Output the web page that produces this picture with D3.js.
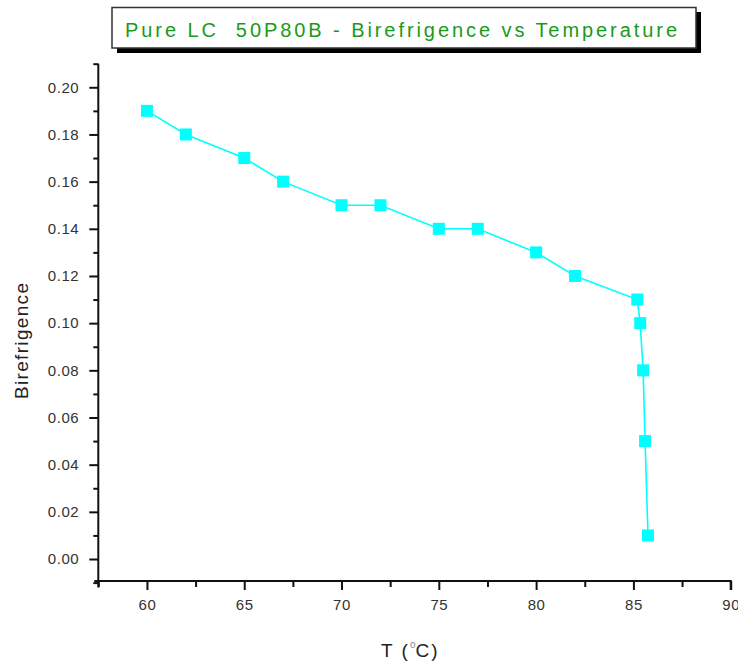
<!DOCTYPE html>
<html>
<head>
<meta charset="utf-8">
<script src="https://cdn.jsdelivr.net/npm/d3@7/dist/d3.min.js"></script>
<style>
  body { margin: 0; background: #fff; }
  text { font-family: "Liberation Sans", Arial, sans-serif; }
</style>
</head>
<body>
<div id="container"></div>
<script>
let w = 738;
let h = 662;

// data
let temps = [60, 62, 65, 67, 70, 72, 75, 77, 80, 82, 85.2, 85.35, 85.5, 85.6, 85.75];
let biref = [0.19, 0.18, 0.17, 0.16, 0.15, 0.15, 0.14, 0.14, 0.13, 0.12, 0.11, 0.10, 0.08, 0.05, 0.01];
let xTicks = [60, 65, 70, 75, 80, 85, 90];
let yTicks = [0.00, 0.02, 0.04, 0.06, 0.08, 0.10, 0.12, 0.14, 0.16, 0.18, 0.20];
let titleText = "Pure LC  50P80B - Birefrigence vs Temperature";

let padL = 98.3, padR = 730.7, padT = 63.7, padB = 582.6;
let axisY = 581;

let svg = d3.select("#container")
  .append("svg")
  .attr("width", w)
  .attr("height", h);

let x = d3.scaleLinear().domain([57.5, 90]).range([padL, padR]);
let y = d3.scaleLinear().domain([-0.01, 0.21]).range([padB, padT]);

// minor ticks
let xMinor = d3.range(57.5, 90.01, 2.5).filter(v => v % 5 != 0);
let yMinor = d3.range(-0.01, 0.2101, 0.02).map(v => +v.toFixed(2));

let xAxis = d3.axisBottom(x).tickValues(xTicks).tickSize(9).tickPadding(9).tickFormat(d3.format("d"));
let yAxis = d3.axisLeft(y).tickValues(yTicks).tickSize(9).tickPadding(10).tickFormat(d3.format(".2f"));

let gx = svg.append("g").attr("transform", "translate(0," + axisY + ")").call(xAxis);
let gy = svg.append("g").attr("transform", "translate(" + padL + ",0)").call(yAxis);

svg.append("g").attr("transform", "translate(0," + axisY + ")")
  .call(d3.axisBottom(x).tickValues(xMinor).tickSize(6).tickFormat(""))
  .select(".domain").remove();
svg.append("g").attr("transform", "translate(" + padL + ",0)")
  .call(d3.axisLeft(y).tickValues(yMinor).tickSize(5).tickFormat(""))
  .select(".domain").remove();

svg.selectAll(".domain").attr("stroke", "#111").attr("stroke-width", 2);
svg.selectAll(".tick line").attr("stroke", "#111").attr("stroke-width", 2);
svg.selectAll(".tick text").attr("fill", "#333").attr("font-size", 15)
  .attr("letter-spacing", 0.6)
  .attr("font-family", "'Liberation Sans', Arial, sans-serif");

// y axis domain: straight line from top to just below x axis
gy.select(".domain").attr("d", "M0," + padT + "V" + (padB + 5));
gx.select(".domain").attr("d", "M" + (padL - 4) + ",0H" + padR + "V9");

// line + markers
let pts = temps.map((t, i) => [t, biref[i]]);
let line = d3.line().x(d => x(d[0])).y(d => y(d[1]));
svg.append("path")
  .attr("d", line(pts))
  .attr("fill", "none")
  .attr("stroke", "#00ffff")
  .attr("stroke-width", 1.6);

svg.selectAll(".pt").data(pts).enter()
  .append("rect")
  .attr("class", "pt")
  .attr("x", d => x(d[0]) - 6)
  .attr("y", d => y(d[1]) - 6)
  .attr("width", 12)
  .attr("height", 12)
  .attr("fill", "#00ffff");

// axis titles
svg.append("text")
  .attr("transform", "translate(28,341) rotate(-90)")
  .attr("text-anchor", "middle")
  .attr("font-size", 19)
  .attr("fill", "#222")
  .attr("textLength", 116)
  .attr("lengthAdjust", "spacing")
  .text("Birefrigence");

let xt = svg.append("text")
  .attr("x", 381)
  .attr("y", 657)
  .attr("font-size", 19)
  .attr("fill", "#222");
xt.append("tspan").attr("letter-spacing", 2).text("T (");
xt.append("tspan").attr("font-size", 10).attr("dy", -9).attr("fill", "#888").text("o");
xt.append("tspan").attr("dy", 9).attr("letter-spacing", 2).text("C)");

// title box
svg.append("rect")
  .attr("x", 117).attr("y", 12)
  .attr("width", 584).attr("height", 41)
  .attr("fill", "#000");
svg.append("rect")
  .attr("x", 112).attr("y", 7.5)
  .attr("width", 584).attr("height", 40.5)
  .attr("fill", "#fff")
  .attr("stroke", "#333")
  .attr("stroke-width", 1.5);
svg.append("text")
  .attr("x", 125)
  .attr("y", 37)
  .attr("font-size", 20)
  .attr("fill", "#1a9a1a")
  .attr("textLength", 552)
  .attr("lengthAdjust", "spacing")
  .style("white-space", "pre")
  .text(titleText);
</script>
</body>
</html>
